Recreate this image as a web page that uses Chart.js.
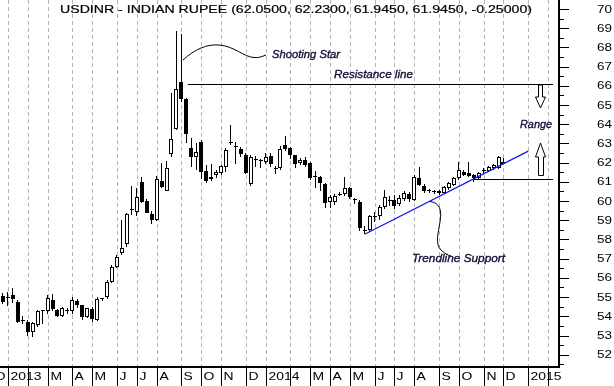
<!DOCTYPE html>
<html>
<head>
<meta charset="utf-8">
<script src="https://cdn.jsdelivr.net/npm/chart.js@4.4.0/dist/chart.umd.min.js"></script>
<style>
html,body{margin:0;padding:0;background:#fff;}
#wrap{width:614px;height:386px;}
</style>
</head>
<body>
<div id="wrap"><canvas id="usdinr" width="614" height="386"></canvas></div>
<script>
/* ===========================
   DATA  (weekly candles, index = week number from late Dec 2012)
=========================== */
const opens  = [55.05,54.95,55.10,54.75,53.80,53.70,53.18,53.55,54.25,54.27,54.85,54.32,54.00,54.28,54.27,54.80,54.58,53.95,54.37,53.80,
                54.88,55.00,55.80,56.58,57.30,57.76,59.55,59.44,61.00,60.00,59.32,59.00,61.05,60.54,62.45,63.75,66.20,65.30,62.78,62.30,
                63.07,61.55,61.15,61.38,61.44,61.80,63.00,62.85,62.70,62.40,60.87,62.12,62.12,62.05,62.35,61.70,61.70,62.92,62.74,62.38,
                61.98,62.14,61.98,61.30,61.23,60.90,59.93,59.95,60.33,60.35,60.66,60.08,59.93,58.50,58.50,59.20,59.20,59.70,60.00,60.05,
                59.84,60.10,60.36,60.05,61.20,60.78,60.55,60.50,60.50,60.40,60.66,60.85,61.18,61.53,61.47,61.35,61.20,61.55,61.58,61.70,
                61.72,62.05];
const highs  = [55.20,55.25,55.45,54.85,54.00,53.80,53.70,54.35,54.35,55.10,55.14,54.40,54.50,54.45,55.00,54.90,54.60,54.45,54.50,55.00,
                54.95,55.90,56.65,57.20,59.00,59.40,60.80,60.70,61.27,60.10,59.50,61.30,62.00,62.07,65.64,68.85,68.70,65.35,63.30,63.00,
                63.20,61.90,61.95,61.60,61.90,62.75,63.95,63.10,62.80,62.50,62.40,62.35,62.20,62.50,62.50,61.82,62.85,63.38,62.80,62.42,
                62.25,62.30,62.05,61.55,61.30,60.95,60.30,60.35,60.45,61.25,60.75,60.15,60.05,58.72,59.30,59.45,59.80,60.60,60.25,60.30,
                60.30,60.50,60.45,61.35,61.78,60.90,60.65,60.60,60.58,60.80,60.98,61.25,62.05,61.60,62.05,61.40,61.50,61.70,61.85,61.95,
                62.33,62.23];
const lows   = [54.65,54.55,54.70,53.65,53.60,53.00,52.90,53.45,53.60,54.10,54.30,53.95,53.95,54.10,54.10,54.45,53.80,53.90,53.70,53.75,
                54.78,54.90,55.75,56.50,57.20,57.60,59.30,59.20,59.90,59.38,58.80,58.95,60.70,60.50,62.30,63.70,65.17,63.00,61.80,61.60,
                61.15,60.95,61.05,61.20,61.35,61.50,62.90,61.95,62.30,61.40,60.80,61.80,61.70,61.95,61.80,61.40,61.60,62.60,62.20,61.70,
                61.90,61.80,61.10,60.66,60.55,59.65,59.65,59.80,60.25,60.25,60.10,59.85,58.45,58.27,58.40,58.90,59.00,59.60,59.75,59.60,
                59.75,60.00,59.95,60.00,60.78,60.40,60.42,60.35,60.32,60.35,60.60,60.80,61.10,61.30,61.25,61.00,61.15,61.40,61.50,61.62,
                61.68,61.945];
const closes = [54.76,55.00,54.90,53.71,53.78,53.20,53.65,54.30,54.27,54.97,54.37,54.00,54.42,54.30,54.84,54.58,53.94,54.42,53.85,54.90,
                54.90,55.80,56.58,57.10,57.55,59.32,59.60,60.22,59.95,59.38,59.00,61.15,60.73,61.72,63.23,65.83,65.30,63.47,62.30,62.55,
                61.50,61.07,61.27,61.52,61.82,62.65,63.08,62.80,62.45,61.47,62.30,62.15,62.10,62.30,61.93,61.65,62.72,62.70,62.38,61.93,
                62.15,61.86,61.18,61.27,60.95,59.90,60.19,60.26,60.36,60.68,60.22,60.03,58.58,58.42,59.20,59.18,59.70,60.20,60.02,59.75,
                60.14,60.40,60.10,61.23,60.83,60.50,60.52,60.46,60.40,60.74,60.92,61.18,61.61,61.35,61.30,61.18,61.45,61.58,61.80,61.90,
                62.28,61.945];

// month boundaries (week index) and their axis labels
const monthIdx    = [-2,1,5,9,14,18,23,27,31,36,40,44,49,53,58,62,66,70,75,79,83,88,92,97,101,106,110];
const monthLabels = ["D","2013","","M","A","M","J","J","A","S","O","N","D","2014","","M","A","M","J","J","A","S","O","N","D","2015",""];

const yTicks = [52,53,54,55,56,57,58,59,60,61,62,63,64,65,66,67,68,69,70];

// drawn levels
const resistance = {level:66.08, from:37.3, to:111.0};
const support    = {level:61.13, from:94.9, to:111.0};
const trendline  = [[73,58.27],[106,62.60]];

const TITLE = "USDINR - INDIAN RUPEE (62.0500, 62.2300, 61.9450, 61.9450, -0.25000)";
const FONT  = "'Liberation Sans', Arial, sans-serif";
const NOTE  = "#121238";

/* ===========================
   HELPERS
=========================== */
function text(ctx, s, x, y, font, width, color, heavy){
    ctx.save();
    ctx.font = font;
    const m = ctx.measureText(s).width;
    ctx.translate(x, y);
    if(width) ctx.scale(width / m, 1);
    ctx.fillStyle = color || "#000";
    ctx.textBaseline = "alphabetic";
    ctx.textAlign = "left";
    ctx.fillText(s, 0, 0);
    if(heavy){
        ctx.strokeStyle = color || "#000";
        ctx.lineWidth = heavy;
        ctx.strokeText(s, 0, 0);
    }
    ctx.restore();
}

function widthScale(ctx, s, font, target){
    ctx.save();
    ctx.font = font;
    const w = ctx.measureText(s).width;
    ctx.restore();
    return target / w;
}

/* ===========================
   PLUGINS
=========================== */
const snapPlugin = {
    id:"snap",
    beforeDatasetsDraw(chart){
        chart.data.datasets.forEach((ds, i) => {
            const meta = chart.getDatasetMeta(i);
            meta.data.forEach(el => {
                if(ds.barThickness === 1){
                    el.x = Math.floor(el.x) + 0.5;
                }else{
                    el.x = Math.round(el.x);
                }
                el.y = Math.round(el.y);
                el.base = Math.round(el.base);
            });
        });
    }
};

const gridPlugin = {
    id:"monthGrid",
    beforeDatasetsDraw(chart){
        const {ctx, chartArea:a, scales:{x}} = chart;
        ctx.save();
        ctx.strokeStyle = "#b4b4b4";
        ctx.lineWidth = 1;
        ctx.setLineDash([4,3]);
        monthIdx.forEach(m => {
            const px = Math.round(x.getPixelForValue(m)) + 0.5;
            if(px < a.left || px > a.right) return;
            ctx.beginPath();
            ctx.moveTo(px, a.top);
            ctx.lineTo(px, a.bottom);
            ctx.stroke();
        });
        ctx.restore();
    }
};

const notesPlugin = {
    id:"notes",
    afterDatasetsDraw(chart){
        const {ctx, chartArea:a, scales:{x, y}} = chart;
        ctx.save();

        // resistance + support levels
        ctx.strokeStyle = "#000";
        ctx.lineWidth = 1;
        [resistance, support].forEach(l => {
            const py = Math.round(y.getPixelForValue(l.level)) + 0.5;
            ctx.beginPath();
            ctx.moveTo(x.getPixelForValue(l.from), py);
            ctx.lineTo(Math.min(x.getPixelForValue(l.to), a.right), py);
            ctx.stroke();
        });

        // trendline
        ctx.strokeStyle = "#1414e6";
        ctx.lineWidth = 1.2;
        ctx.beginPath();
        ctx.moveTo(x.getPixelForValue(trendline[0][0]), y.getPixelForValue(trendline[0][1]));
        ctx.lineTo(x.getPixelForValue(trendline[1][0]), y.getPixelForValue(trendline[1][1]));
        ctx.stroke();

        // callout curves
        ctx.strokeStyle = "#000";
        ctx.lineWidth = 1;
        ctx.beginPath();
        ctx.moveTo(183, 60);
        ctx.bezierCurveTo(195, 49, 207, 44, 219, 45);
        ctx.bezierCurveTo(234, 46, 244, 57, 254, 57.5);
        ctx.bezierCurveTo(259, 58, 262, 56.5, 266, 55);
        ctx.stroke();

        ctx.beginPath();
        ctx.moveTo(430, 201.5);
        ctx.bezierCurveTo(440, 203, 442, 210, 440, 222);
        ctx.bezierCurveTo(438, 234, 435, 244, 441, 250);
        ctx.bezierCurveTo(444, 253, 447, 255, 451, 256);
        ctx.stroke();

        // range arrows
        ctx.fillStyle = "#fff";
        ctx.beginPath();
        ctx.moveTo(538.5, 85); ctx.lineTo(542.5, 85); ctx.lineTo(542.5, 97);
        ctx.lineTo(545.5, 97); ctx.lineTo(540.5, 108); ctx.lineTo(535.5, 97);
        ctx.lineTo(538.5, 97); ctx.closePath();
        ctx.fill(); ctx.stroke();

        ctx.beginPath();
        ctx.moveTo(540.5, 143); ctx.lineTo(545.5, 157); ctx.lineTo(543.5, 157);
        ctx.lineTo(543.5, 175.5); ctx.lineTo(538.5, 175.5); ctx.lineTo(538.5, 157);
        ctx.lineTo(535.5, 157); ctx.closePath();
        ctx.fill(); ctx.stroke();

        // annotation text
        const it = "italic 11px " + FONT;
        text(ctx, "Shooting Star", 272, 58, it, 68, NOTE, 0.35);
        text(ctx, "Resistance line", 334, 78, it, 79, NOTE, 0.35);
        text(ctx, "Range", 520, 128, it, 32, NOTE, 0.35);
        text(ctx, "Trendline Support", 412, 262, it, 93, NOTE, 0.35);

        // title
        text(ctx, TITLE, 60, 13, "11px " + FONT, 472, "#000", 0.2);

        // axes
        ctx.fillStyle = "#000";
        ctx.fillRect(a.left, a.bottom - 1, a.right - a.left + 2, 2);
        ctx.fillRect(a.right, a.top, 2, a.bottom - a.top);

        // y ticks
        ctx.lineWidth = 1;
        ctx.strokeStyle = "#000";
        for(let v = Math.ceil(y.min * 2) / 2; v <= y.max; v += 0.5){
            const py = Math.round(y.getPixelForValue(v)) + 0.5;
            const major = Number.isInteger(v);
            ctx.beginPath();
            ctx.moveTo(a.right + 1, py);
            ctx.lineTo(a.right + (major ? 11 : 6), py);
            ctx.stroke();
        }
        const yFont = "10px " + FONT;
        const ys = widthScale(ctx, "70", yFont, 15);
        yTicks.forEach(v => {
            const py = y.getPixelForValue(v);
            ctx.save();
            ctx.font = yFont;
            ctx.translate(597, py + 3.5);
            ctx.scale(ys, 1);
            ctx.fillStyle = "#000";
            ctx.fillText(String(v), 0, 0);
            ctx.restore();
        });

        // x separators + month labels
        const xFont = "11px " + FONT;
        const xs = widthScale(ctx, "2014", xFont, 31);
        monthIdx.forEach((m, i) => {
            const px = Math.round(x.getPixelForValue(m)) + 0.5;
            ctx.beginPath();
            ctx.moveTo(px, a.bottom);
            ctx.lineTo(px, chart.height);
            ctx.stroke();
            if(!monthLabels[i]) return;
            ctx.save();
            ctx.font = xFont;
            ctx.translate(px + 2, 380);
            ctx.scale(xs, 1);
            ctx.fillStyle = "#000";
            ctx.fillText(monthLabels[i], 0, 0);
            ctx.restore();
        });

        ctx.restore();
    }
};

/* ===========================
   CHART
=========================== */
const bodies = opens.map((o, i) => ({x:i, y:[o, closes[i]]}));
const wicks  = lows.map((l, i) => ({x:i, y:[l, highs[i]]}));

new Chart(document.getElementById("usdinr"), {
    type:"bar",
    data:{
        datasets:[
            {
                label:"body",
                data:bodies,
                barThickness:4,
                minBarLength:1,
                grouped:false,
                borderWidth:1,
                borderSkipped:false,
                inflateAmount:0,
                borderColor:"#000",
                backgroundColor:ctx => closes[ctx.dataIndex] >= opens[ctx.dataIndex] ? "#fff" : "#000",
                order:1
            },
            {
                label:"wick",
                data:wicks,
                barThickness:1,
                grouped:false,
                borderWidth:0,
                inflateAmount:0,
                backgroundColor:"#000",
                order:2
            }
        ]
    },
    options:{
        responsive:false,
        devicePixelRatio:1,
        animation:false,
        layout:{ padding:{ left:0, top:0, right:56, bottom:19 } },
        plugins:{ legend:{ display:false }, tooltip:{ enabled:false } },
        scales:{
            x:{ type:"linear", min:-0.6, max:112, offset:false, display:false },
            y:{ min:51.36, max:70.47, display:false }
        }
    },
    plugins:[snapPlugin, gridPlugin, notesPlugin]
});
</script>
</body>
</html>
